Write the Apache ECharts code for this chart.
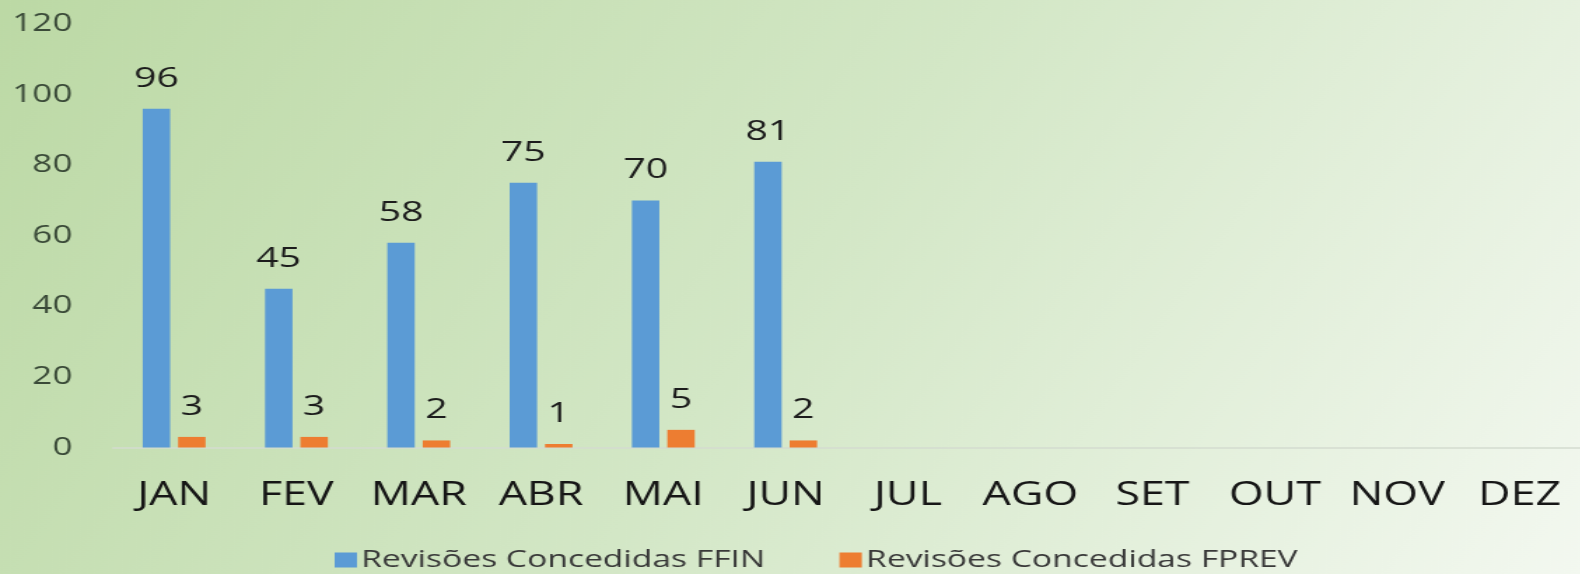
<!DOCTYPE html>
<html lang="pt">
<head>
    <meta charset="utf-8">
    <title>Revisões Concedidas</title>
    <script src="https://cdn.jsdelivr.net/npm/echarts@6/dist/echarts.min.js"></script>
    <style type="text/css">
        html, body {
            margin: 0;
            padding: 0;
            overflow: hidden;
            background: #dbeacf;
        }
        /* the source picture is stretched sideways, so draw narrow and stretch */
        #main {
            width: 1128.6px;
            height: 574px;
            transform: scaleX(1.4);
            transform-origin: 0 0;
        }
    </style>
</head>
<body>
    <div id="main"></div>
    <script type="text/javascript">
        var meses = ['JAN', 'FEV', 'MAR', 'ABR', 'MAI', 'JUN', 'JUL', 'AGO', 'SET', 'OUT', 'NOV', 'DEZ'];
        var ffin = [96, 45, 58, 75, 70, 81, null, null, null, null, null, null];
        var fprev = [3, 3, 2, 1, 5, 2, null, null, null, null, null, null];
        var nomes = ['Revisões Concedidas FFIN', 'Revisões Concedidas FPREV'];

        var fonte = '"Open Sans", "DejaVu Sans", sans-serif';
        var myChart = echarts.init(document.getElementById('main'));

        var rotulo = {
            show: true,
            position: 'top',
            distance: 16,
            fontFamily: fonte,
            fontSize: 28,
            color: '#1c1c1c'
        };

        var option = {
            backgroundColor: {
                type: 'linear',
                x: 0, y: 0, x2: 1, y2: 1,
                colorStops: [
                    { offset: 0, color: '#bcd9a5' },
                    { offset: 0.5, color: '#d3e7c6' },
                    { offset: 1, color: '#f3f8f0' }
                ]
            },
            textStyle: { fontFamily: fonte },
            legend: {
                data: nomes,
                left: 234,
                top: 543,
                itemWidth: 16,
                itemHeight: 15,
                itemGap: 53,
                icon: 'rect',
                textStyle: { fontSize: 24, color: '#383838', fontFamily: fonte, padding: [0, 0, 0, -2] }
            },
            grid: {
                left: 80.7,
                right: -9,
                top: 24,
                bottom: 126.5,
                containLabel: false
            },
            xAxis: {
                type: 'category',
                data: meses,
                axisLine: { lineStyle: { color: '#d4dcd0', width: 1.5 } },
                axisTick: { show: false },
                axisLabel: { interval: 0, fontSize: 32, color: '#161616', margin: 32, fontFamily: fonte }
            },
            yAxis: {
                type: 'value',
                min: 0,
                max: 120,
                interval: 20,
                axisLine: { show: false },
                axisTick: { show: false },
                splitLine: { show: false },
                axisLabel: { fontSize: 25, color: '#3a4a38', margin: 29, fontFamily: fonte }
            },
            series: [
                {
                    name: nomes[0],
                    type: 'bar',
                    data: ffin,
                    barWidth: 19.6,
                    barGap: '29%',
                    itemStyle: { color: '#5b9bd5' },
                    label: rotulo
                },
                {
                    name: nomes[1],
                    type: 'bar',
                    data: fprev,
                    barWidth: 19.6,
                    barGap: '29%',
                    itemStyle: { color: '#ed7d31' },
                    label: rotulo
                }
            ]
        };
        myChart.setOption(option);
    </script>
</body>
</html>
